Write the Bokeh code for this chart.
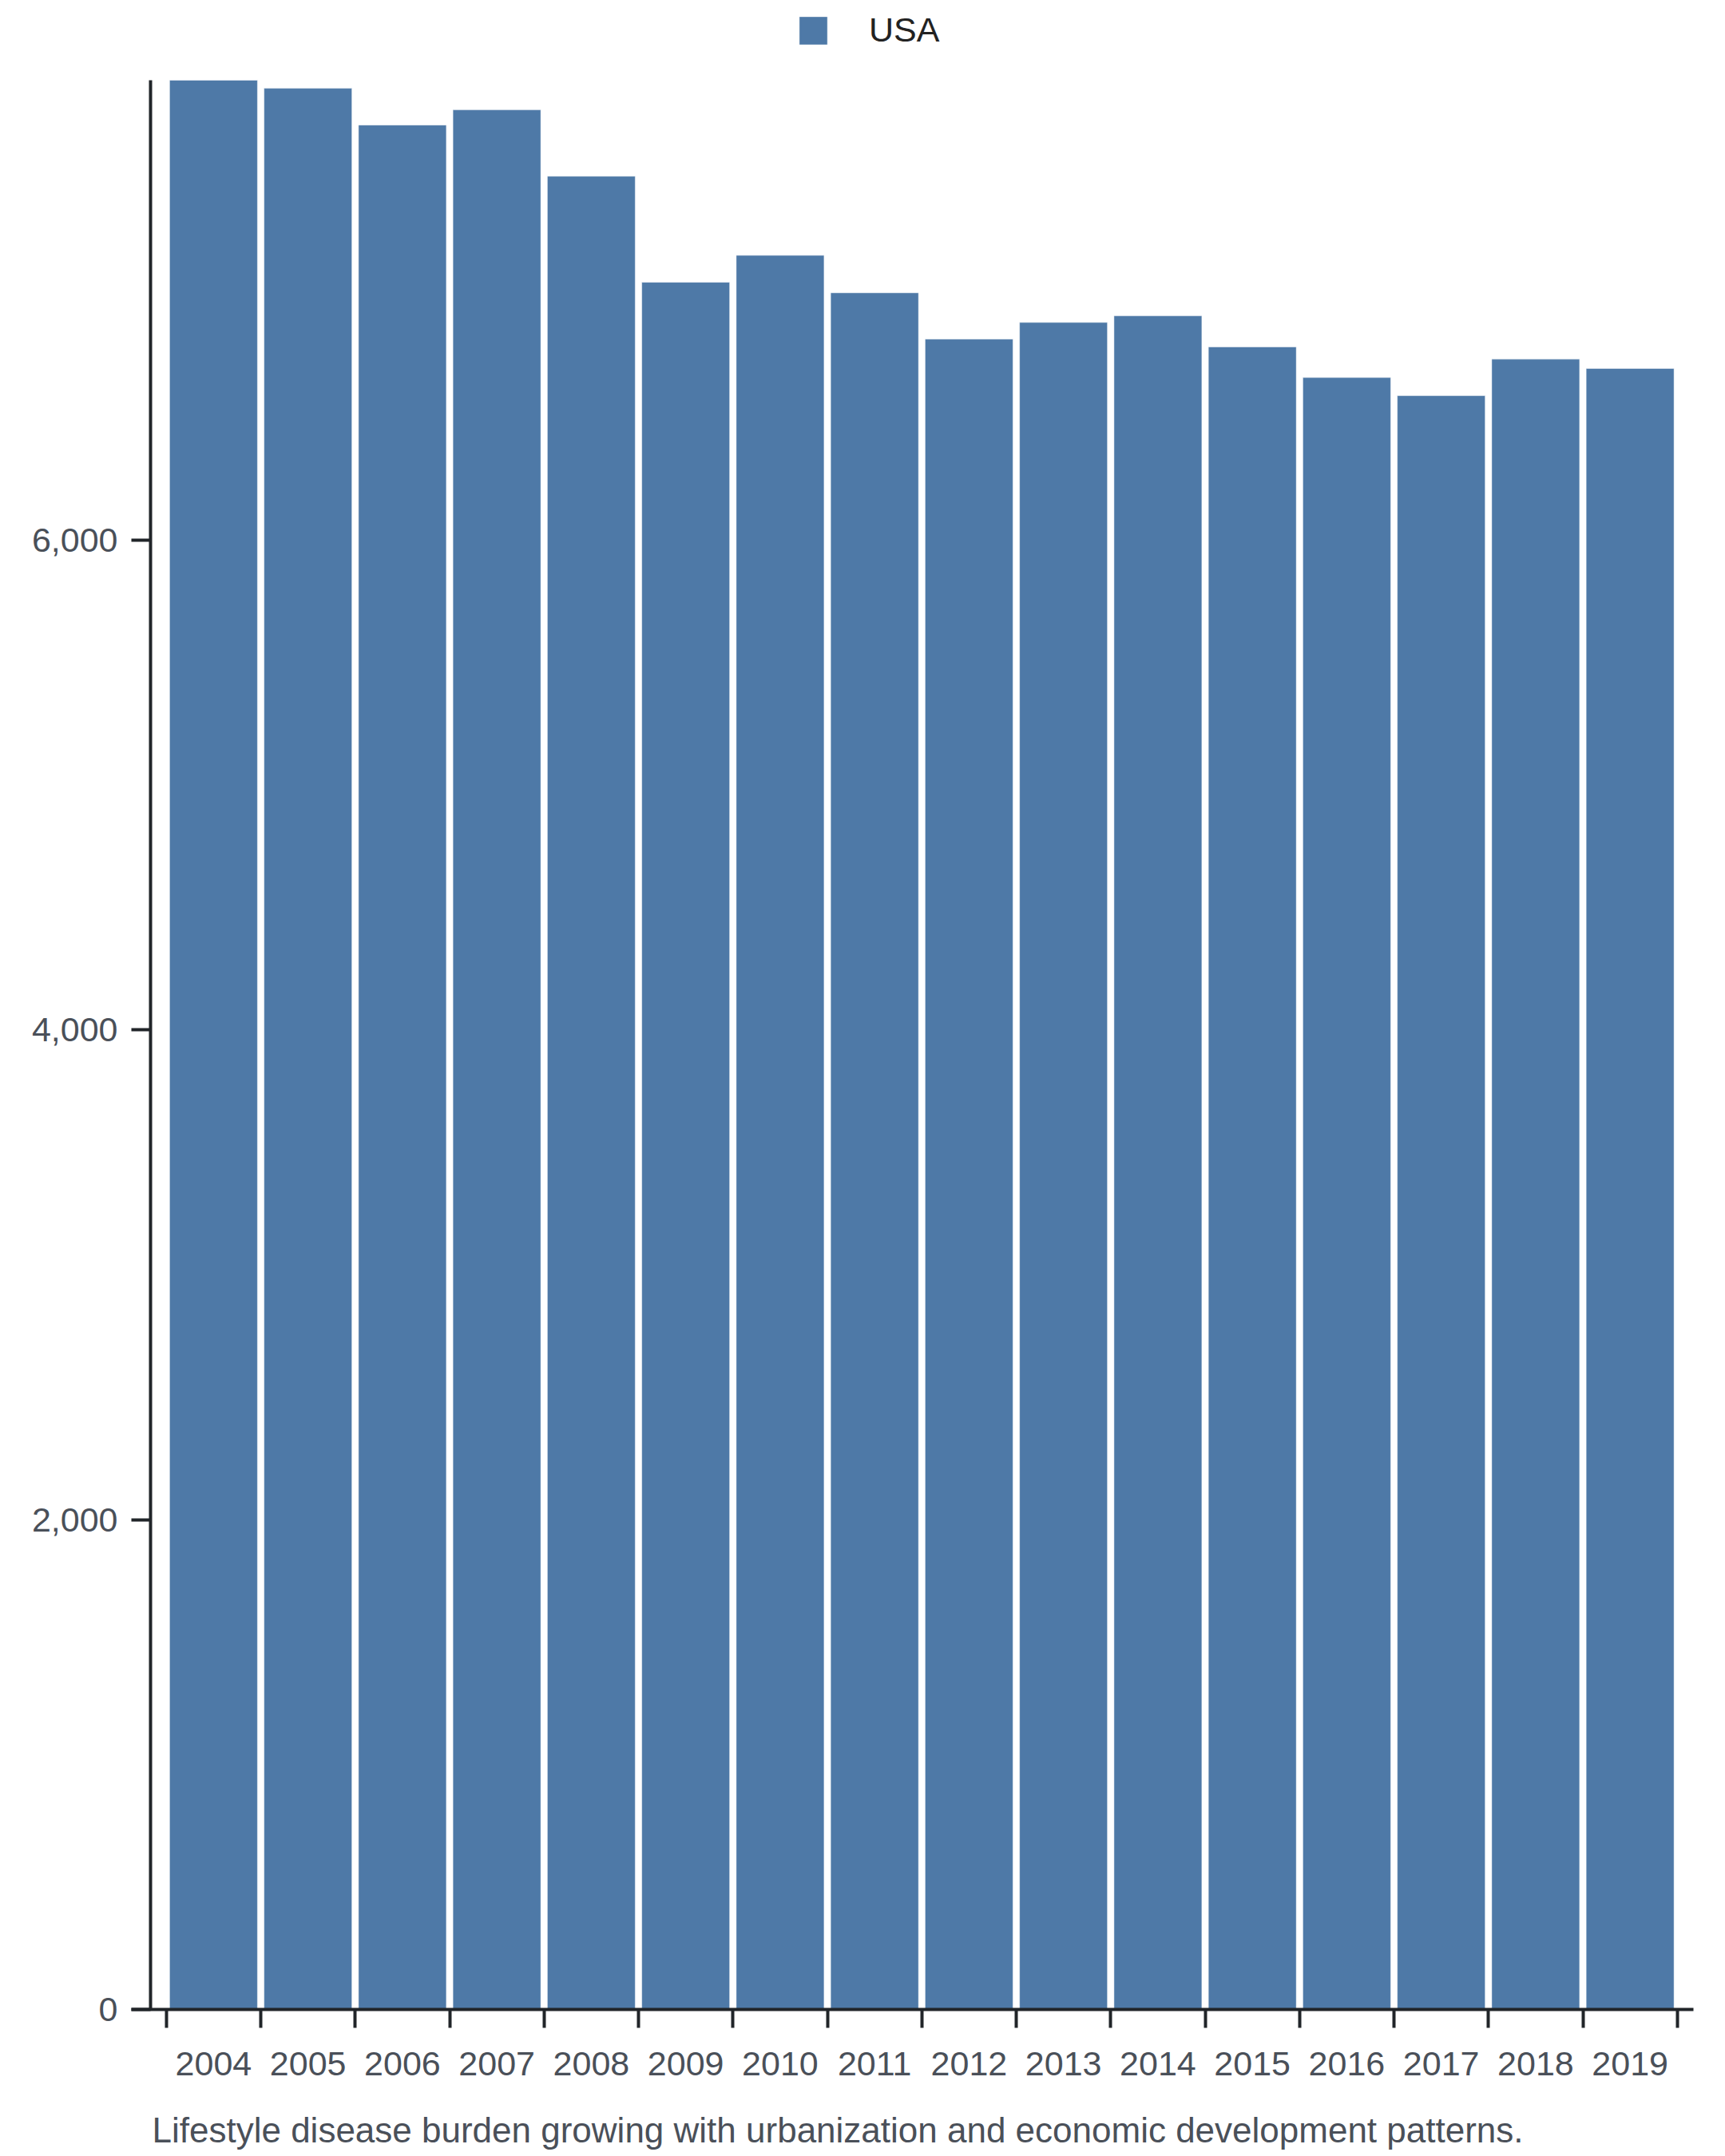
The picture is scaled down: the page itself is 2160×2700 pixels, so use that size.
from bokeh.plotting import figure
from bokeh.models import (ColumnDataSource, Range1d, FixedTicker, NumeralTickFormatter,
                          Legend, LegendItem, Title)
from bokeh.embed import file_html
from bokeh.resources import INLINE

# ---- data ----
years = [2004, 2005, 2006, 2007, 2008, 2009, 2010, 2011,
         2012, 2013, 2014, 2015, 2016, 2017, 2018, 2019]
usa = [7877, 7844, 7694, 7756, 7485, 7052, 7162, 7009,
       6820, 6888, 6915, 6788, 6663, 6589, 6738, 6700]
y_ticks = [0, 2000, 4000, 6000]
series_name = "USA"
caption = "Lifestyle disease burden growing with urbanization and economic development patterns."

FONT = "Liberation Sans"
BAR = "#4e79a7"
AXIS = "#212529"
LABEL = "#4a5059"

W, H = 2160, 2700
FRAME_H = 2516          # frame spans from the top of the canvas to the x axis
DATA_H = 2416           # pixels used by the value domain [0, max]

src = ColumnDataSource(dict(year=years, value=usa))

p = figure(width=W, height=H, output_backend="svg", toolbar_location=None,
           x_range=Range1d(years[0] - 0.870, years[-1] + 0.671),
           y_range=Range1d(0, max(usa) * FRAME_H / DATA_H),
           min_border_left=164, min_border_right=40,
           min_border_top=0, min_border_bottom=H - FRAME_H)
p.outline_line_color = None
p.grid.visible = False
p.background_fill_color = "white"
p.border_fill_color = "white"

r = p.vbar(x="year", top="value", bottom=0, width=0.93, source=src,
           fill_color=BAR, line_color="white", line_alpha=0.45, line_width=1)

# offset y axis line (from 0 to the domain max)
p.segment(x0=years[0] - 0.667, y0=0, x1=years[0] - 0.667, y1=max(usa),
          line_color=AXIS, line_width=4)

# x axis: labels at bar centres, ticks at band boundaries
xa = p.xaxis[0]
xa.ticker = FixedTicker(ticks=years, minor_ticks=[y - 0.5 for y in years] + [years[-1] + 0.5])
xa.formatter = NumeralTickFormatter(format="0")
xa.major_tick_line_alpha = 0
xa.major_tick_out = 0
xa.major_tick_in = 0
xa.minor_tick_out = 23
xa.minor_tick_in = 0
xa.minor_tick_line_width = 4
xa.minor_tick_line_color = AXIS
xa.axis_line_width = 4
xa.axis_line_color = AXIS
xa.major_label_standoff = 30
xa.major_label_text_font = FONT
xa.major_label_text_font_size = "43px"
xa.major_label_text_color = LABEL
# blank spacer label: pushes the caption (below) down
xa.axis_label = " "
xa.axis_label_text_font_size = "2px"
xa.axis_label_standoff = 36

# y axis
ya = p.yaxis[0]
ya.ticker = FixedTicker(ticks=y_ticks)
ya.formatter = NumeralTickFormatter(format="0,0")
ya.axis_line_alpha = 0
ya.major_tick_out = 0
ya.major_tick_in = 24
ya.major_tick_line_width = 4
ya.major_tick_line_color = AXIS
ya.minor_tick_line_alpha = 0
ya.major_label_standoff = 17
ya.major_label_text_font = FONT
ya.major_label_text_font_size = "43px"
ya.major_label_text_color = LABEL

legend = Legend(items=[LegendItem(label=series_name, renderers=[r])],
                location=(832, FRAME_H - 62), padding=0, margin=0,
                glyph_width=44, glyph_height=44, label_height=44,
                label_standoff=48, border_line_alpha=0, background_fill_alpha=0,
                label_text_font=FONT, label_text_font_size="43px",
                label_text_color="#222222")
p.add_layout(legend)

t = Title(text=caption, align="left", offset=26, standoff=0, vertical_align="top",
          text_font=FONT, text_font_size="44px", text_font_style="normal",
          text_color=LABEL)
p.add_layout(t, "below")

open("out.html", "w").write(file_html(p, INLINE))
